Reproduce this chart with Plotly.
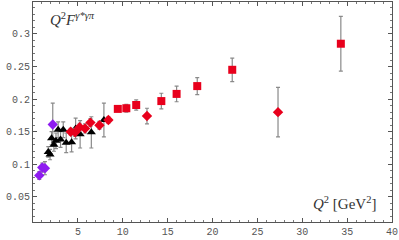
import plotly.graph_objects as go

# BaBar-like red squares
sq_x = [9.45, 10.4, 11.5, 14.3, 16.0, 18.3, 22.2, 34.3]
sq_y = [0.185, 0.186, 0.191, 0.197, 0.208, 0.220, 0.245, 0.285]
sq_e = [0.004, 0.006, 0.008, 0.012, 0.012, 0.013, 0.018, 0.042]

# CLEO-like red diamonds
rd_x = [4.2, 4.7, 5.2, 5.8, 6.4, 7.4, 8.4, 12.7, 27.3]
rd_y = [0.150, 0.149, 0.157, 0.155, 0.164, 0.160, 0.168, 0.174, 0.180]
rd_e = [0.005, 0.006, 0.006, 0.007, 0.006, 0.006, 0.005, 0.012, 0.038]

# black triangles
tr_x = [1.7, 1.9, 2.07, 2.33, 2.56, 2.8, 3.07, 3.37, 3.7, 4.3, 4.75, 5.25, 6.5, 7.9]
tr_y = [0.119, 0.115, 0.140, 0.130, 0.136, 0.153, 0.138, 0.153, 0.133, 0.134, 0.155, 0.146, 0.149, 0.168]
tr_e = [0.008, 0.008, 0.010, 0.010, 0.012, 0.012, 0.012, 0.012, 0.015, 0.015, 0.016, 0.021, 0.024, 0.026]

# purple diamonds
pd_x = [0.7, 1.03, 1.33, 2.2]
pd_y = [0.083, 0.095, 0.094, 0.161]
pd_e = [0.006, 0.007, 0.010, 0.033]

ERR = dict(type="data", visible=True, color="#8a8a8a", thickness=1.2, width=2)

fig = go.Figure()
fig.add_trace(go.Scatter(x=pd_x, y=pd_y, mode="markers",
                         error_y=dict(array=pd_e, **ERR),
                         marker=dict(symbol="diamond", size=8, color="#8e1cf0")))
fig.add_trace(go.Scatter(x=tr_x, y=tr_y, mode="markers",
                         error_y=dict(array=tr_e, **ERR),
                         marker=dict(symbol="triangle-up", size=8, color="black")))
fig.add_trace(go.Scatter(x=rd_x, y=rd_y, mode="markers",
                         error_y=dict(array=rd_e, **ERR),
                         marker=dict(symbol="diamond", size=8, color="#e8001c")))
fig.add_trace(go.Scatter(x=sq_x, y=sq_y, mode="markers",
                         error_y=dict(array=sq_e, **ERR),
                         marker=dict(symbol="square", size=8, color="#e8001c")))

axis_common = dict(showgrid=False, zeroline=False, showline=True, linecolor="#555",
                   linewidth=1, mirror="allticks", ticks="inside", ticklen=4,
                   automargin=False,
                   tickcolor="#555", tickfont=dict(family="Liberation Mono", size=10, color="#555"))

fig.update_xaxes(range=[0, 40], tickvals=[5, 10, 15, 20, 25, 30, 35, 40],
                 minor=dict(ticks="inside", ticklen=2, dtick=1, tickcolor="#777"),
                 **axis_common)
fig.update_yaxes(range=[0.0115, 0.349], tickvals=[0.05, 0.1, 0.15, 0.2, 0.25, 0.3],
                 ticktext=["0.05", "0.1", "0.15", "0.2", "0.25", "0.3"],
                 minor=dict(ticks="inside", ticklen=2, dtick=0.01, tickcolor="#777"),
                 **axis_common)

fig.add_annotation(x=0.042, y=0.975, xref="paper", yref="paper", xanchor="left", yanchor="top",
                   text="<i>Q</i><sup>2</sup><i>F</i><sup><i>γ*γπ</i></sup>", showarrow=False,
                   font=dict(family="Liberation Serif", size=15, color="#333"))
fig.add_annotation(x=0.962, y=0.035, xref="paper", yref="paper", xanchor="right", yanchor="bottom",
                   text="<i>Q</i><sup>2</sup> [GeV<sup>2</sup>]", showarrow=False,
                   font=dict(family="Liberation Serif", size=15, color="#333"))

fig.update_layout(width=399, height=240, margin=dict(l=33, r=7, t=2, b=18, autoexpand=False),
                  plot_bgcolor="white", paper_bgcolor="white", showlegend=False)

fig.write_html("out.html", config={"displayModeBar": False},
               post_script="document.body.style.margin='0px';")
